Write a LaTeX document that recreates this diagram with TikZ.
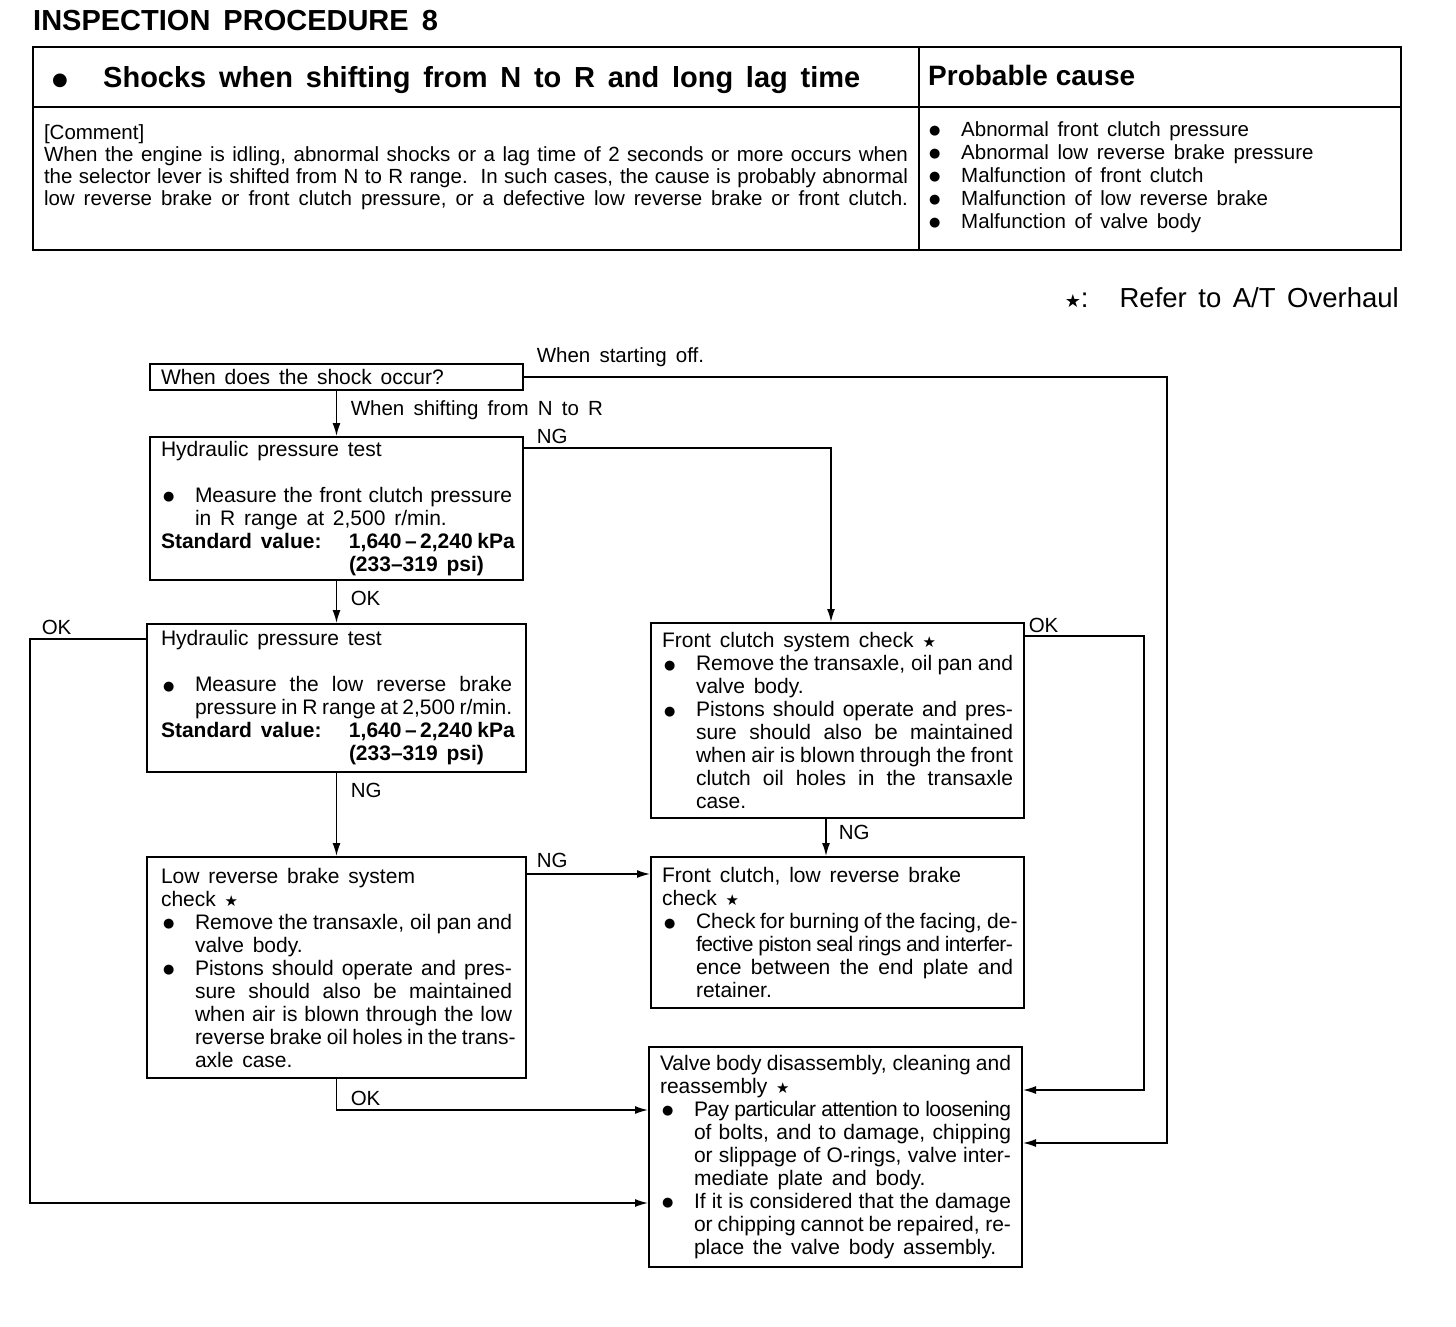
\documentclass[tikz,border=0pt]{standalone}
\usepackage{fontspec}
\setmainfont{Liberation Sans}
\newfontfamily\symfont{DejaVu Sans}
\usetikzlibrary{arrows.meta}

\newlength{\lw}
\newcommand{\bxfont}{\fontsize{21}{23}\selectfont\spaceskip=.42em plus .4em minus .2em\relax}
\newcommand{\cmfont}{\fontsize{20.5}{22}\selectfont\spaceskip=.42em plus .4em minus .2em\relax}
\newcommand{\lbfont}{\fontsize{20.5}{23}\selectfont\spaceskip=.45em plus .2em minus .1em\relax}
\newcommand{\tlfont}{\bfseries\fontsize{29}{34}\selectfont\spaceskip=.45em\relax}
\newcommand{\rffont}{\fontsize{27.5}{30}\selectfont\spaceskip=.42em\relax}
\newcommand{\bul}{\raisebox{1.5pt}{\symfont\fontsize{13}{13}\selectfont ●}}
\newcommand{\chk}{{\symfont\fontsize{15}{15}\selectfont ★}}
\newcommand{\tight}{\addfontfeature{LetterSpace=-2.5}}
% one line of box text: justified, ragged, bullet, indented
\newcommand{\fl}[1]{\hbox to\lw{#1}}
\newcommand{\rl}[1]{\hbox to\lw{#1\hfil}}
\newcommand{\bl}[1]{\hbox to\lw{\hbox to34pt{\hskip2pt\bul\hfil}#1}}
\newcommand{\il}[1]{\hbox to\lw{\hskip34pt\relax #1}}
\newcommand{\pl}[1]{\hbox to\lw{\hbox to32pt{\bul\hfil}#1\hfil}}
\newcommand{\stdval}{\fl{\bfseries\hbox to188pt{Standard value:\hfil}1,640\,–\,2,240 kPa}%
  \rl{\bfseries\hskip188pt\relax (233–319 psi)}}

\begin{document}
\begin{tikzpicture}[x=1pt, y=-1pt,
  box/.style={draw, line width=2pt, inner sep=0pt, font=\bxfont, execute at begin node={\setlength{\lw}{351pt}}},
  arr/.style={line width=1.5pt, -{Latex[length=13pt, width=8pt]}},
  lbl/.style={anchor=base west, inner sep=0pt, font=\lbfont}]
  \useasboundingbox (0,0) rectangle (1456,1326);

  % header table
  \node[anchor=base west, inner sep=0pt, font=\tlfont] (title) at (33,30) {INSPECTION PROCEDURE 8};
  \draw[line width=2.5pt] (33,47) rectangle (1401,250) (919,47) -- (919,250) (33,107) -- (1401,107);
  \node[anchor=base west, inner sep=0pt, font=\bfseries\fontsize{29}{34}\selectfont] (symptom) at (52,87)
    {\hbox to808pt{\hbox to51pt{\raisebox{2pt}{\symfont\fontsize{18}{18}\selectfont ●}\hfil}Shocks when shifting from N to R and long lag time}};
  \node[anchor=base west, inner sep=0pt, font=\bfseries\fontsize{28}{34}\selectfont] (cause) at (928,85) {Probable cause};
  \node[inner sep=0pt, font=\cmfont, execute at begin node={\setlength{\lw}{864pt}}] (comment) at (476,167) {\vbox{%
    \rl{[Comment]}
    \fl{When the engine is idling, abnormal shocks or a lag time of 2 seconds or more occurs when}
    \fl{the selector lever is shifted from N to R range.\ \ In such cases, the cause is probably abnormal}
    \fl{low reverse brake or front clutch pressure, or a defective low reverse brake or front clutch.}}};
  \node[anchor=west, inner sep=0pt, font=\cmfont, execute at begin node={\setlength{\lw}{460pt}}] (causes) at (929,177) {\vbox{%
    \baselineskip=23pt
    \pl{Abnormal front clutch pressure}
    \pl{Abnormal low reverse brake pressure}
    \pl{Malfunction of front clutch}
    \pl{Malfunction of low reverse brake}
    \pl{Malfunction of valve body}}};
  \node[anchor=base east, inner sep=0pt, font=\rffont] (refer) at (1399,307)
    {{\symfont\fontsize{18}{18}\selectfont ★}:\hskip31pt\relax Refer to A/T Overhaul};

  % flowchart boxes
  \node[box, minimum width=373pt, minimum height=26pt] (shock) at (336.5,377) {\vbox{\rl{When does the shock occur?}}};
  \node[box, minimum width=373pt, minimum height=143pt] (fcp) at (336.5,508.5) {\vbox{%
    \rl{Hydraulic pressure test}
    \rl{}
    \bl{Measure the front clutch pressure}
    \il{in R range at 2,500 r/min.\hfil}
    \stdval}};
  \node[box, minimum width=379pt, minimum height=148pt] (lrp) at (336.5,698) {\vbox{%
    \rl{Hydraulic pressure test}
    \rl{}
    \bl{Measure the low reverse brake}
    \il{pressure in R range at 2,500 r/min.}
    \stdval}};
  \node[box, minimum width=373pt, minimum height=195pt] (fcs) at (837.5,720.5) {\vbox{%
    \rl{Front clutch system check \chk}
    \bl{Remove the transaxle, oil pan and}
    \il{valve body.\hfil}
    \bl{Pistons should operate and pres-}
    \il{sure should also be maintained}
    \il{when air is blown through the front}
    \il{clutch oil holes in the transaxle}
    \il{case.\hfil}}};
  \node[box, minimum width=379pt, minimum height=221pt] (lrs) at (336.5,967.5) {\vbox{%
    \rl{Low reverse brake system}
    \rl{check \chk}
    \bl{Remove the transaxle, oil pan and}
    \il{valve body.\hfil}
    \bl{Pistons should operate and pres-}
    \il{sure should also be maintained}
    \il{when air is blown through the low}
    \il{reverse brake oil holes in the trans-}
    \il{axle case.\hfil}}};
  \node[box, minimum width=373pt, minimum height=151pt] (fclr) at (837.5,932.5) {\vbox{%
    \rl{Front clutch, low reverse brake}
    \rl{check \chk}
    \bl{Check for burning of the facing, de-}
    \il{\tight fective piston seal rings and interfer-}
    \il{ence between the end plate and}
    \il{retainer.\hfil}}};
  \node[box, minimum width=373pt, minimum height=220pt] (vb) at (835.5,1157) {\vbox{%
    \fl{Valve body disassembly, cleaning and}
    \rl{reassembly \chk}
    \bl{\tight Pay particular attention to loosening}
    \il{of bolts, and to damage, chipping}
    \il{or slippage of O-rings, valve inter-}
    \il{mediate plate and body.\hfil}
    \bl{If it is considered that the damage}
    \il{or chipping cannot be repaired, re-}
    \il{place the valve body assembly.\hfil}}};

  % connectors
  \draw[arr] (shock.south) -- node[lbl, at start, xshift=13.5pt, yshift=-24pt] {When shifting from N to R} (fcp.north);
  \draw[arr] (shock.east) -- node[lbl, at start, xshift=12pt, yshift=15pt] {When starting off.} ++(643,0) |- ([yshift=14pt]vb.east);
  \draw[arr] ([yshift=-12pt]fcp.north east) -| node[lbl, at start, xshift=12pt, yshift=5pt] {NG} ([xshift=-6.5pt]fcs.north);
  \draw[arr] (fcp.south) -- node[lbl, at start, xshift=13.5pt, yshift=-24pt] {OK} (lrp.north);
  \draw[arr] ([yshift=-16pt]lrp.north west) -- node[lbl, at start, xshift=-105pt, yshift=5pt] {OK} ++(-116,0) |- ([yshift=-46pt]vb.west);
  \draw[arr] (lrp.south) -- node[lbl, at start, xshift=13.5pt, yshift=-24pt] {NG} (lrs.north);
  \draw[arr] ([yshift=-18pt]lrs.north east) -- node[lbl, at start, xshift=9pt, yshift=7pt] {NG} ([yshift=-18pt]lrs.north east -| fclr.west);
  \draw[arr] (lrs.south) |- node[lbl, at start, xshift=13.5pt, yshift=-26pt] {OK} ([yshift=47pt]vb.west);
  \draw[arr] ([yshift=-14pt]fcs.north east) -- node[lbl, at start, xshift=3pt, yshift=4pt] {OK} ++(119,0) |- ([yshift=67pt]vb.east);
  \draw[arr] ([xshift=-11.5pt]fcs.south) -- node[lbl, at start, xshift=12pt, yshift=-20pt] {NG} ([xshift=-11.5pt]fclr.north);
\end{tikzpicture}
\end{document}
